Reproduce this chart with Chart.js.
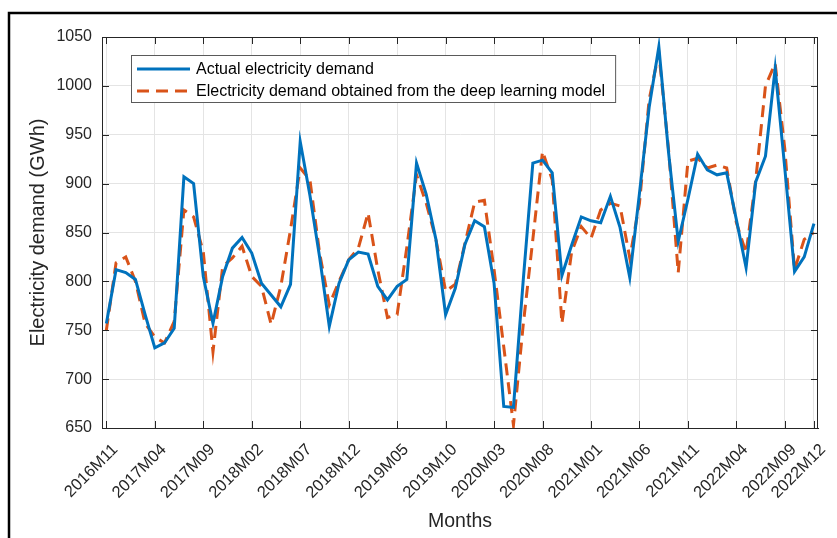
<!DOCTYPE html>
<html lang="en">
<head>
    <meta charset="UTF-8">
    <title>Electricity demand</title>
    <script src="https://cdn.jsdelivr.net/npm/chart.js"></script>
    <style>
        html, body { margin: 0; padding: 0; background: #ffffff; }
        #chart { display: block; }
    </style>
</head>
<body>
    <canvas id="chart" width="837" height="538"></canvas>
    <script>
        // months on the x axis
        const months = [
            '2016M11', '2016M12',
            '2017M01', '2017M02', '2017M03', '2017M04', '2017M05', '2017M06',
            '2017M07', '2017M08', '2017M09', '2017M10', '2017M11', '2017M12',
            '2018M01', '2018M02', '2018M03', '2018M04', '2018M05', '2018M06',
            '2018M07', '2018M08', '2018M09', '2018M10', '2018M11', '2018M12',
            '2019M01', '2019M02', '2019M03', '2019M04', '2019M05', '2019M06',
            '2019M07', '2019M08', '2019M09', '2019M10', '2019M11', '2019M12',
            '2020M01', '2020M02', '2020M03', '2020M04', '2020M05', '2020M06',
            '2020M07', '2020M08', '2020M09', '2020M10', '2020M11', '2020M12',
            '2021M01', '2021M02', '2021M03', '2021M04', '2021M05', '2021M06',
            '2021M07', '2021M08', '2021M09', '2021M10', '2021M11', '2021M12',
            '2022M01', '2022M02', '2022M03', '2022M04', '2022M05', '2022M06',
            '2022M07', '2022M08', '2022M09', '2022M10', '2022M11', '2022M12'
        ];

        // labelled ticks
        const tickMonths = [
            '2016M11', '2017M04', '2017M09', '2018M02', '2018M07', '2018M12',
            '2019M05', '2019M10', '2020M03', '2020M08', '2021M01', '2021M06',
            '2021M11', '2022M04', '2022M09', '2022M12'
        ];

        // GWh
        const actualDemand = [
            757, 812,
            809, 802, 766, 732, 737, 752, 907, 900, 805, 757, 805, 834,
            845, 829, 798, 786, 774, 797, 943, 888, 825, 754, 798, 822,
            830, 828, 795, 781, 795, 802, 921, 889, 843, 766, 793, 838,
            862, 856, 798, 672, 671, 800, 921, 924, 911, 806, 837, 866,
            862, 860, 887, 855, 804, 890, 978, 1040, 932, 841, 884, 930,
            914, 909, 911, 863, 814, 902, 928, 1018, 915, 810, 825, 859
        ];

        const modelDemand = [
            750, 819,
            825, 800, 757, 743, 737, 759, 873, 866, 830, 728, 815, 824,
            836, 805, 795, 756, 795, 853, 916, 904, 829, 776, 800, 822,
            834, 870, 812, 763, 766, 835, 909, 880, 843, 790, 797, 839,
            881, 883, 812, 733, 653, 755, 843, 933, 904, 757, 830, 856,
            844, 873, 880, 877, 824, 880, 986, 1034, 935, 809, 923, 926,
            916, 919, 916, 860, 829, 904, 1000, 1023, 935, 812, 843, 850
        ];

        const yTicks = [650, 700, 750, 800, 850, 900, 950, 1000, 1050];

        const FONT = "'Liberation Sans', Arial, Helvetica, sans-serif";
        const AXIS = '#262626';

        // box, inward ticks, legend and the outer figure frame
        const matlabLook = {
            id: 'matlabLook',
            beforeDraw(chart) {
                const c = chart.ctx;
                c.save();
                c.fillStyle = '#ffffff';
                c.fillRect(0, 0, chart.width, chart.height);
                c.strokeStyle = '#000000';
                c.lineWidth = 2.5;
                c.beginPath();
                c.moveTo(9, chart.height);
                c.lineTo(9, 13);
                c.lineTo(chart.width, 13);
                c.stroke();
                c.restore();
            },
            afterDraw(chart) {
                const c = chart.ctx;
                const a = chart.chartArea;
                const xs = chart.scales.x, ys = chart.scales.y;
                c.save();
                c.strokeStyle = AXIS;
                c.lineWidth = 1;
                c.strokeRect(a.left + 0.5, a.top + 0.5, a.right - a.left - 1, a.bottom - a.top);
                c.beginPath();
                xs.ticks.forEach(t => {
                    const px = Math.round(xs.getPixelForValue(t.value)) + 0.5;
                    c.moveTo(px, a.bottom); c.lineTo(px, a.bottom - 7);
                    c.moveTo(px, a.top); c.lineTo(px, a.top + 7);
                });
                ys.ticks.forEach(t => {
                    const py = Math.round(ys.getPixelForValue(t.value)) + 0.5;
                    c.moveTo(a.left, py); c.lineTo(a.left + 7, py);
                    c.moveTo(a.right, py); c.lineTo(a.right - 7, py);
                });
                c.stroke();

                // legend
                const ds = chart.data.datasets;
                c.font = '16px ' + FONT;
                const textW = Math.max(...ds.map(d => c.measureText(d.label).width));
                const left = a.left + 29, top = a.top + 18;
                const textX = left + 65;
                const w = textX - left + textW + 10, h = 47;
                c.fillStyle = '#ffffff';
                c.fillRect(left, top, w, h);
                c.strokeStyle = '#5a5a5a';
                c.strokeRect(left + 0.5, top + 0.5, w, h);
                ds.forEach((d, i) => {
                    const y = top + 14 + i * 22;
                    c.strokeStyle = d.borderColor;
                    c.lineWidth = d.borderWidth;
                    c.setLineDash(d.borderDash || []);
                    c.beginPath();
                    c.moveTo(left + 6, y); c.lineTo(left + 59, y);
                    c.stroke();
                    c.setLineDash([]);
                    c.fillStyle = '#000000';
                    c.textBaseline = 'middle';
                    c.fillText(d.label, textX, y + 1);
                });
                c.restore();
            }
        };

        new Chart(document.getElementById('chart').getContext('2d'), {
            type: 'line',
            data: {
                datasets: [
                    {
                        label: 'Actual electricity demand',
                        data: actualDemand.map((v, i) => ({ x: i, y: v })),
                        borderColor: '#0072BD',
                        borderWidth: 3,
                        pointRadius: 0,
                        tension: 0
                    },
                    {
                        label: 'Electricity demand obtained from the deep learning model',
                        data: modelDemand.map((v, i) => ({ x: i, y: v })),
                        borderColor: '#D95319',
                        borderWidth: 3,
                        borderDash: [12, 7],
                        pointRadius: 0,
                        tension: 0
                    }
                ]
            },
            options: {
                responsive: false,
                animation: false,
                devicePixelRatio: 1,
                layout: { padding: { left: 0, right: 19, top: 37, bottom: 0 } },
                plugins: {
                    legend: { display: false },
                    tooltip: { enabled: false }
                },
                scales: {
                    x: {
                        type: 'linear',
                        min: -0.45,
                        max: months.length - 1 + 0.42,
                        afterBuildTicks: s => {
                            s.ticks = tickMonths.map(m => ({ value: months.indexOf(m) }));
                        },
                        afterFit: s => {
                            s.height = 110;
                            s.paddingLeft = 0;
                            s.paddingRight = 0;
                        },
                        ticks: {
                            autoSkip: false,
                            minRotation: 45,
                            maxRotation: 45,
                            padding: 12,
                            labelOffset: 9,
                            color: AXIS,
                            font: { family: FONT, size: 16.5 },
                            callback: v => months[v]
                        },
                        grid: { color: '#e4e4e4', drawTicks: false },
                        border: { color: AXIS },
                        title: {
                            display: true,
                            text: 'Months',
                            color: AXIS,
                            font: { family: FONT, size: 19.5 },
                            padding: { bottom: 5 }
                        }
                    },
                    y: {
                        min: 650,
                        max: 1050,
                        afterBuildTicks: s => {
                            s.ticks = yTicks.map(v => ({ value: v }));
                        },
                        afterFit: s => { s.width = 102; },
                        ticks: {
                            padding: 10,
                            color: AXIS,
                            font: { family: FONT, size: 16 },
                            callback: v => String(v)
                        },
                        grid: { color: '#e4e4e4', drawTicks: false },
                        border: { color: AXIS },
                        title: {
                            display: true,
                            text: 'Electricity demand (GWh)',
                            color: AXIS,
                            font: { family: FONT, size: 20 },
                            padding: { top: 26 }
                        }
                    }
                }
            },
            plugins: [matlabLook]
        });
    </script>
</body>
</html>
